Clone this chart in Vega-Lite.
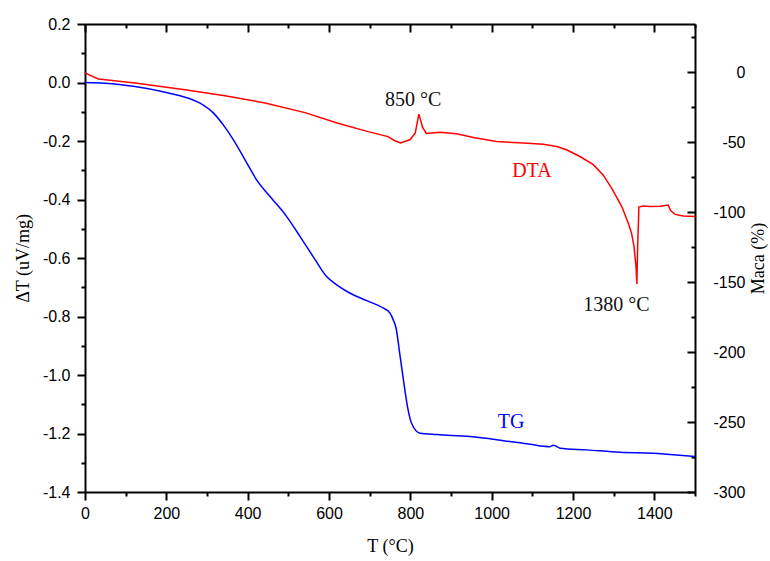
{
  "$schema": "https://vega.github.io/schema/vega-lite/v6.json",
  "width": 610,
  "height": 468,
  "autosize": "none",
  "padding": {"left": 85, "top": 24, "right": 75, "bottom": 69},
  "background": "white",
  "config": {
    "view": {"stroke": null},
    "axis": {
      "grid": false,
      "labelFont": "Liberation Sans",
      "labelFontSize": 16,
      "labelColor": "#000000",
      "titleFont": "Liberation Serif",
      "titleFontSize": 18,
      "titleFontWeight": "normal",
      "titleColor": "#000000",
      "labelOverlap": false,
      "labelFlush": false
    }
  },
  "datasets": {
    "dta": [
      {"T": 0, "dT": 0.034}, {"T": 10, "dT": 0.026}, {"T": 33, "dT": 0.012}, {"T": 123, "dT": -0.002},
      {"T": 246, "dT": -0.025}, {"T": 344, "dT": -0.045}, {"T": 443, "dT": -0.070}, {"T": 541, "dT": -0.103},
      {"T": 622, "dT": -0.139}, {"T": 696, "dT": -0.168}, {"T": 745, "dT": -0.185}, {"T": 762, "dT": -0.199},
      {"T": 776, "dT": -0.207}, {"T": 799, "dT": -0.196}, {"T": 812, "dT": -0.173}, {"T": 821, "dT": -0.108},
      {"T": 830, "dT": -0.153}, {"T": 839, "dT": -0.174}, {"T": 873, "dT": -0.170}, {"T": 914, "dT": -0.175},
      {"T": 955, "dT": -0.188}, {"T": 1012, "dT": -0.202}, {"T": 1078, "dT": -0.207}, {"T": 1127, "dT": -0.211},
      {"T": 1160, "dT": -0.219}, {"T": 1184, "dT": -0.230}, {"T": 1217, "dT": -0.253}, {"T": 1250, "dT": -0.281},
      {"T": 1274, "dT": -0.316}, {"T": 1295, "dT": -0.361}, {"T": 1320, "dT": -0.424}, {"T": 1336, "dT": -0.481},
      {"T": 1344, "dT": -0.515}, {"T": 1350, "dT": -0.561}, {"T": 1355, "dT": -0.629}, {"T": 1357, "dT": -0.689},
      {"T": 1359, "dT": -0.561}, {"T": 1362, "dT": -0.426}, {"T": 1373, "dT": -0.422}, {"T": 1389, "dT": -0.424},
      {"T": 1414, "dT": -0.423}, {"T": 1434, "dT": -0.419}, {"T": 1440, "dT": -0.438}, {"T": 1451, "dT": -0.451},
      {"T": 1471, "dT": -0.456}, {"T": 1500, "dT": -0.458}
    ],
    "tg": [
      {"T": 0, "mass": -7.4}, {"T": 49, "mass": -7.9}, {"T": 123, "mass": -10.3}, {"T": 197, "mass": -14.3},
      {"T": 234, "mass": -16.9}, {"T": 283, "mass": -22.2}, {"T": 316, "mass": -29.3}, {"T": 340, "mass": -37.7},
      {"T": 365, "mass": -48.4}, {"T": 398, "mass": -65.0}, {"T": 422, "mass": -77.0}, {"T": 455, "mass": -88.9},
      {"T": 496, "mass": -103.2}, {"T": 529, "mass": -117.5}, {"T": 561, "mass": -131.8}, {"T": 594, "mass": -146.1},
      {"T": 619, "mass": -152.0}, {"T": 652, "mass": -158.0}, {"T": 693, "mass": -163.3}, {"T": 734, "mass": -168.7},
      {"T": 750, "mass": -172.2}, {"T": 758, "mass": -177.0}, {"T": 765, "mass": -183.0}, {"T": 775, "mass": -203.3},
      {"T": 783, "mass": -219.9}, {"T": 793, "mass": -239.0}, {"T": 803, "mass": -250.9}, {"T": 824, "mass": -258.0},
      {"T": 865, "mass": -259.0}, {"T": 947, "mass": -260.4}, {"T": 1029, "mass": -263.3}, {"T": 1094, "mass": -265.9},
      {"T": 1143, "mass": -267.6}, {"T": 1152, "mass": -266.6}, {"T": 1168, "mass": -268.7}, {"T": 1234, "mass": -269.9},
      {"T": 1316, "mass": -271.6}, {"T": 1397, "mass": -272.3}, {"T": 1455, "mass": -273.5}, {"T": 1500, "mass": -274.7}
    ],
    "notes": [
      {"label": "850 °C", "T": 807, "dT": -0.059},
      {"label": "1380 °C", "T": 1307, "dT": -0.760},
      {"label": "DTA", "T": 1099, "dT": -0.302},
      {"label": "TG", "T": 1048, "dT": -1.160}
    ]
  },
  "layer": [
    {
      "layer": [
        {
          "data": {"name": "dta"},
          "mark": {"type": "line", "color": "#ff0000", "strokeWidth": 1.5},
          "encoding": {
            "x": {
              "field": "T", "type": "quantitative",
              "scale": {"domain": [0, 1500], "nice": false, "zero": false},
              "axis": {
                "orient": "bottom",
                "values": [0, 200, 400, 600, 800, 1000, 1200, 1400],
                "format": "d",
                "domainColor": "#000000", "domainWidth": 2,
                "tickColor": "#000000", "tickWidth": 2, "tickSize": 8,
                "labelPadding": 5,
                "title": "T (°C)",
                "titlePadding": 16
              }
            },
            "y": {
              "field": "dT", "type": "quantitative",
              "scale": {"domain": [-1.4, 0.2], "nice": false, "zero": false},
              "axis": {
                "orient": "left",
                "values": [-1.4, -1.2, -1.0, -0.8, -0.6, -0.4, -0.2, 0.0, 0.2],
                "format": ".1f",
                "labelExpr": "replace(datum.label, '\u2212', '-')",
                "domainColor": "#000000", "domainWidth": 2,
                "tickColor": "#000000", "tickWidth": 2, "tickSize": 8,
                "labelPadding": 7,
                "title": "ΔT (uV/mg)",
                "titlePadding": 10
              }
            }
          }
        },
        {
          "data": {"name": "notes"},
          "mark": {"type": "text", "font": "Liberation Serif", "fontSize": 20, "align": "center", "baseline": "middle"},
          "encoding": {
            "x": {"field": "T", "type": "quantitative", "scale": {"domain": [0, 1500], "nice": false, "zero": false}},
            "y": {"field": "dT", "type": "quantitative", "scale": {"domain": [-1.4, 0.2], "nice": false, "zero": false}},
            "text": {"field": "label"},
            "color": {
              "field": "label", "type": "nominal",
              "scale": {"domain": ["850 °C", "1380 °C", "DTA", "TG"], "range": ["#111111", "#111111", "#ff0000", "#0000ff"]},
              "legend": null
            }
          }
        }
      ]
    },
    {
      "data": {"name": "tg"},
      "mark": {"type": "line", "color": "#0000ff", "strokeWidth": 1.5, "interpolate": "monotone"},
      "encoding": {
        "x": {
          "field": "T", "type": "quantitative",
          "scale": {"domain": [0, 1500], "nice": false, "zero": false},
          "axis": {
            "orient": "top",
            "values": [0, 200, 400, 600, 800, 1000, 1200, 1400],
            "labels": false,
            "domainColor": "#000000", "domainWidth": 2,
            "tickColor": "#000000", "tickWidth": 2, "tickSize": -8,
            "title": null
          }
        },
        "y": {
          "field": "mass", "type": "quantitative",
          "scale": {"domain": [-300, 34.4], "nice": false, "zero": false},
          "axis": {
            "orient": "right",
            "values": [-300, -250, -200, -150, -100, -50, 0],
            "format": "d",
            "labelExpr": "replace(datum.label, '\u2212', '-')",
            "labelAlign": "right",
            "domainColor": "#000000", "domainWidth": 2,
            "tickColor": "#000000", "tickWidth": 2, "tickSize": -8,
            "labelPadding": 58,
            "title": "Maca (%)",
            "titleAngle": -90,
            "titlePadding": 22
          }
        }
      }
    },
    {
      "data": {"name": "tg"},
      "mark": {"type": "line", "strokeOpacity": 0},
      "encoding": {
        "x": {
          "field": "T", "type": "quantitative",
          "scale": {"domain": [0, 1500], "nice": false, "zero": false},
          "axis": {
            "orient": "bottom",
            "values": [100, 300, 500, 700, 900, 1100, 1300, 1500],
            "labels": false, "domain": false,
            "tickColor": "#000000", "tickWidth": 2, "tickSize": 4, "title": null
          }
        },
        "y": {
          "field": "mass", "type": "quantitative",
          "scale": {"domain": [-300, 34.4], "nice": false, "zero": false},
          "axis": {
            "orient": "right",
            "values": [-275, -225, -175, -125, -75, -25, 25],
            "labels": false, "domain": false,
            "tickColor": "#000000", "tickWidth": 2, "tickSize": -4, "title": null
          }
        }
      }
    },
    {
      "data": {"name": "dta"},
      "mark": {"type": "line", "strokeOpacity": 0},
      "encoding": {
        "x": {
          "field": "T", "type": "quantitative",
          "scale": {"domain": [0, 1500], "nice": false, "zero": false},
          "axis": {
            "orient": "top",
            "values": [100, 300, 500, 700, 900, 1100, 1300, 1500],
            "labels": false, "domain": false,
            "tickColor": "#000000", "tickWidth": 2, "tickSize": -4, "title": null
          }
        },
        "y": {
          "field": "dT", "type": "quantitative",
          "scale": {"domain": [-1.4, 0.2], "nice": false, "zero": false},
          "axis": {
            "orient": "left",
            "values": [-1.3, -1.1, -0.9, -0.7, -0.5, -0.3, -0.1, 0.1],
            "labels": false, "domain": false,
            "tickColor": "#000000", "tickWidth": 2, "tickSize": 4, "title": null
          }
        }
      }
    }
  ],
  "resolve": {"scale": {"x": "independent", "y": "independent"}}
}
